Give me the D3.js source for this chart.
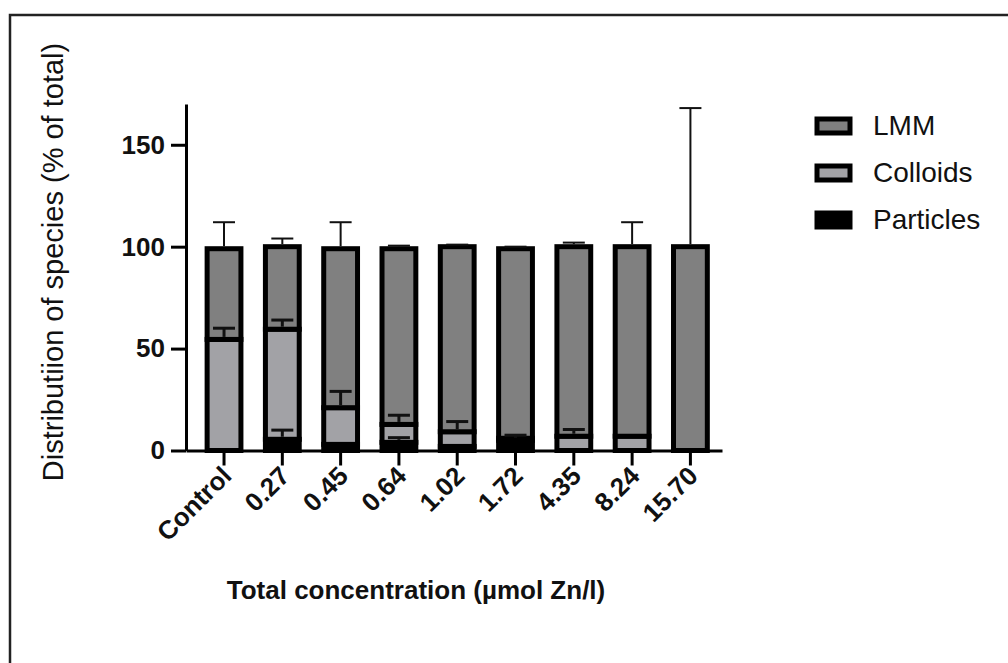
<!DOCTYPE html>
<html>
<head>
<meta charset="utf-8">
<script src="https://cdn.jsdelivr.net/npm/d3@7"></script>
<style>
  body { margin: 0; background: #fff; }
  svg { display: block; font-family: Arial, "Liberation Sans", sans-serif; }
</style>
</head>
<body>
<svg id="chart" width="1008" height="663"></svg>
<script>
// values (% of total)
var categories = ["Control", "0.27", "0.45", "0.64", "1.02", "1.72", "4.35", "8.24", "15.70"];
var particles    = [0, 5.5, 3, 4, 2, 5, 0, 0, 0];
var particlesErr = [0, 4.5, 0, 2.3, 0, 2.5, 0, 0, 0];
var colloids     = [54.5, 54, 18, 8.8, 7.2, 1, 7, 7, 0];
var colloidsErr  = [5.5, 4.5, 8, 4.5, 5, 0, 3.3, 0, 0];
var lmm          = [44.5, 40.5, 78, 86.2, 90.8, 93, 93, 93, 100];
var lmmErr       = [13, 4, 13, 1.5, 1, 1, 2, 12, 68];
var yTicks = [0, 50, 100, 150];

var seriesNames = ["Particles", "Colloids", "LMM"];
var seriesFill = {"Particles": "#000000", "Colloids": "#a2a2a6", "LMM": "#808080"};
var legendOrder = ["LMM", "Colloids", "Particles"];

var rows = categories.map(function(c, i) {
	return {cat: c, Particles: particles[i], Colloids: colloids[i], LMM: lmm[i],
		err: {Particles: particlesErr[i], Colloids: colloidsErr[i], LMM: lmmErr[i]}};
});

var svg = d3.select("#chart");

// frame (top and left edge of the figure box)
svg.append("path")
  .attr("d", "M10,663 L10,15 L1008,15")
  .style("fill", "none")
  .style("stroke", "#222")
  .style("stroke-width", 2.5);

var x = d3.scaleBand()
  .domain(categories)
  .range([186, 722])
  .paddingInner(0.42)
  .paddingOuter(0.307)
  .align(0.59);

var y = d3.scaleLinear()
  .domain([0, 170])
  .range([450.5, 104]);

var stacked = d3.stack().keys(seriesNames)(rows);

// bars
var layers = svg.append("g").attr("class", "bars")
  .selectAll("g")
  .data(stacked)
  .enter().append("g")
  .style("fill", function(d) { return seriesFill[d.key]; });

layers.selectAll("rect")
  .data(function(d) { return d.filter(function(s) { return s[1] - s[0] > 0; }); })
  .enter().append("rect")
  .attr("x", function(d) { return x(d.data.cat); })
  .attr("width", x.bandwidth())
  .attr("y", function(d) { return y(d[1]); })
  .attr("height", function(d) { return y(d[0]) - y(d[1]); })
  .style("stroke", "#000")
  .style("stroke-width", 5);

// error bars (upper only)
var errs = [];
stacked.forEach(function(layer) {
	layer.forEach(function(s) {
		var e = s.data.err[layer.key];
		if (e > 0) errs.push({cat: s.data.cat, top: s[1], err: e, key: layer.key});
	});
});

var eb = svg.append("g").attr("class", "errbars")
  .selectAll("g")
  .data(errs)
  .enter().append("g")
  .style("stroke", "#111")
  .style("stroke-width", function(d) { return d.key == "LMM" ? 2 : 3; });

eb.append("line")
  .attr("x1", function(d) { return x(d.cat) + x.bandwidth() / 2; })
  .attr("x2", function(d) { return x(d.cat) + x.bandwidth() / 2; })
  .attr("y1", function(d) { return y(d.top) - 2.5; })
  .attr("y2", function(d) { return y(d.top + d.err); });

eb.append("line")
  .attr("x1", function(d) { return x(d.cat) + x.bandwidth() / 2 - 11; })
  .attr("x2", function(d) { return x(d.cat) + x.bandwidth() / 2 + 11; })
  .attr("y1", function(d) { return y(d.top + d.err); })
  .attr("y2", function(d) { return y(d.top + d.err); });

// y axis
var yAxis = svg.append("g")
  .attr("transform", "translate(186,0)")
  .call(d3.axisLeft(y).tickValues(yTicks).tickSize(15).tickSizeOuter(0).tickPadding(6));
yAxis.selectAll("path, line").style("stroke", "#000").style("stroke-width", 3);
yAxis.selectAll("text")
  .style("font-size", "26px")
  .style("font-weight", "bold")
  .style("fill", "#111")
  .style("font-family", "Arial, 'Liberation Sans', sans-serif");

// x axis
var xAxis = svg.append("g")
  .attr("transform", "translate(0,450.5)")
  .call(d3.axisBottom(x).tickSize(15).tickSizeOuter(0));
xAxis.selectAll("path, line").style("stroke", "#000").style("stroke-width", 3);
xAxis.selectAll("text")
  .attr("x", 0).attr("y", 0).attr("dy", 0)
  .attr("transform", "translate(9,27) rotate(-45)")
  .style("text-anchor", "end")
  .style("font-size", "26px")
  .style("font-weight", "bold")
  .style("fill", "#111")
  .style("font-family", "Arial, 'Liberation Sans', sans-serif");

// axis titles
svg.append("text")
  .attr("x", 416)
  .attr("y", 599)
  .style("text-anchor", "middle")
  .style("font-size", "26px")
  .style("font-weight", "bold")
  .style("fill", "#111")
  .text("Total concentration (µmol Zn/l)");

svg.append("text")
  .attr("transform", "translate(63,262) rotate(-90)")
  .style("text-anchor", "middle")
  .style("font-size", "29px")
  .style("fill", "#111")
  .text("Distributiion of species (% of total)");

// legend
var legend = svg.append("g").attr("class", "legend")
  .selectAll("g")
  .data(legendOrder)
  .enter().append("g")
  .attr("transform", function(d, i) { return "translate(0," + (126 + i * 47) + ")"; });

legend.append("rect")
  .attr("x", 817)
  .attr("y", -7)
  .attr("width", 33)
  .attr("height", 14)
  .style("fill", function(d) { return seriesFill[d]; })
  .style("stroke", "#000")
  .style("stroke-width", 5);

legend.append("text")
  .attr("x", 873)
  .attr("y", 9)
  .style("font-size", "28px")
  .style("fill", "#111")
  .text(function(d) { return d; });
</script>
</body>
</html>
